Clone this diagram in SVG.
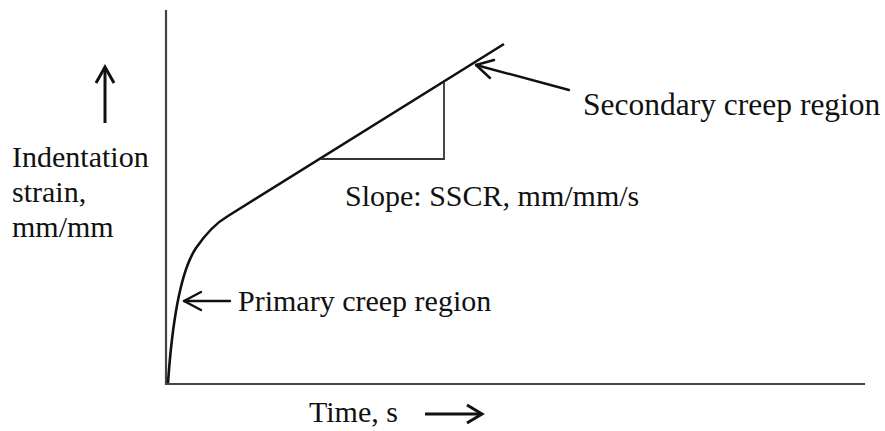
<svg xmlns="http://www.w3.org/2000/svg" width="885" height="431" viewBox="0 0 885 431">
  <style>
    .lbl { font-family: "Liberation Serif", Tinos, "Times New Roman", "DejaVu Serif", serif; font-size: 30px; fill: #111; }
    .big { font-size: 31.5px; }
    .axis { stroke: #444; stroke-width: 2.2; fill: none; }
    .curve { stroke: #111; stroke-width: 2.6; fill: none; stroke-linejoin: round; }
    .tri { stroke: #333; stroke-width: 1.8; fill: none; }
    .arr { stroke: #111; stroke-width: 2.4; fill: none; stroke-linecap: round; stroke-linejoin: round; }
    .arr-thick { stroke: #111; stroke-width: 3; fill: none; stroke-linecap: butt; stroke-linejoin: miter; }
  </style>
  <rect width="885" height="431" fill="#ffffff"/>

  <!-- axes -->
  <g id="axes">
    <line class="axis" x1="166" y1="10" x2="166" y2="385"/>
    <line class="axis" x1="165" y1="384" x2="865" y2="384"/>
  </g>

  <!-- creep curve: primary (curved) and secondary (linear) stages -->
  <g id="creep-curve">
    <path class="curve" d="M168,383 C172,325 180,272 196,248 C207,232 216,223 228,216 L504,44"/>
  </g>

  <!-- slope triangle -->
  <g id="slope-triangle">
    <polyline class="tri" points="321,159 444,159 444,82"/>
  </g>

  <!-- labels -->
  <g id="y-label">
    <text class="lbl" x="12" y="167">Indentation</text>
    <text class="lbl" x="12" y="202">strain,</text>
    <text class="lbl" x="12" y="237">mm/mm</text>
  </g>
  <g id="x-label">
    <text class="lbl" x="309" y="422">Time, s</text>
  </g>
  <g id="secondary-label">
    <text class="lbl big" x="583" y="115">Secondary creep region</text>
  </g>
  <g id="primary-label">
    <text class="lbl" x="238" y="311">Primary creep region</text>
  </g>
  <g id="slope-label">
    <text class="lbl" x="345" y="206">Slope: SSCR, mm/mm/s</text>
  </g>

  <!-- connectors / arrows -->
  <g id="connectors">
    <!-- y direction arrow -->
    <line class="arr-thick" x1="105" y1="123" x2="105" y2="67"/>
    <polyline class="arr-thick" points="96,83 105,67 114,83"/>
    <!-- x direction arrow -->
    <line class="arr-thick" x1="425" y1="414" x2="481" y2="414"/>
    <polyline class="arr-thick" points="467,405 482,414 467,423"/>
    <!-- pointer to secondary region -->
    <line class="arr" x1="569" y1="90" x2="476" y2="65"/>
    <polyline class="arr" points="494,60 476,65 490,78"/>
    <!-- pointer to primary region -->
    <line class="arr" x1="230" y1="301" x2="184" y2="301"/>
    <polyline class="arr" points="201,292 184,301 201,310"/>
  </g>
</svg>
